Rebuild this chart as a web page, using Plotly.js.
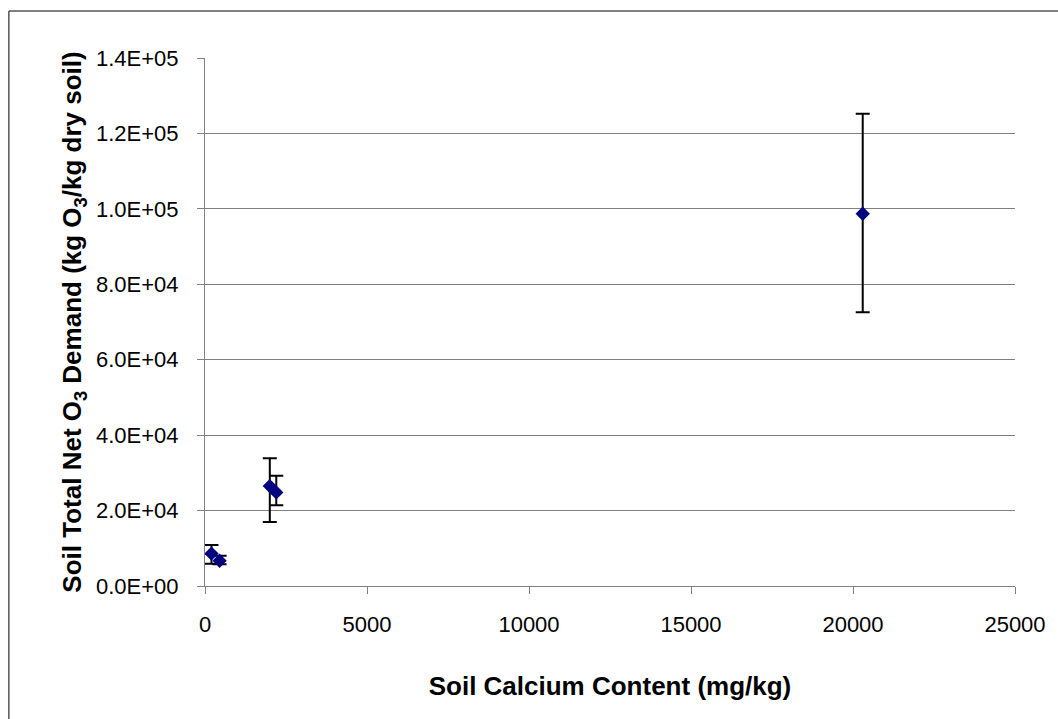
<!DOCTYPE html>
<html>
<head>
<meta charset="utf-8">
<script src="https://cdn.plot.ly/plotly-3.0.1.min.js"></script>
<style>html,body{margin:0;padding:0;background:#fff;}#chart{width:1058px;height:719px;}</style>
</head>
<body>
<div id="chart"></div>
<script>
const calcium = [200, 450, 2000, 2200, 20300];
const demand = [8600, 6700, 26500, 24800, 98700];
const errPlus = [2300, 1300, 7400, 4400, 26500];
const errMinus = [2700, 900, 9500, 3400, 26100];
const yTickVals = [0, 20000, 40000, 60000, 80000, 100000, 120000, 140000];
const yTickText = ['0.0E+00', '2.0E+04', '4.0E+04', '6.0E+04', '8.0E+04', '1.0E+05', '1.2E+05', '1.4E+05'];
const xTickVals = [0, 5000, 10000, 15000, 20000, 25000];

const FONT = 'Liberation Sans, Arial, sans-serif';

const trace = {
  x: calcium,
  y: demand,
  type: 'scatter',
  mode: 'markers',
  marker: {symbol: 'diamond', color: '#000080', size: 11},
  error_y: {type: 'data', symmetric: false, array: errPlus, arrayminus: errMinus,
            color: '#000000', thickness: 2, width: 7},
  showlegend: false,
  hoverinfo: 'x+y'
};

const layout = {
  width: 1058, height: 719,
  margin: {l: 205, r: 43, t: 58, b: 133, pad: 0},
  paper_bgcolor: '#ffffff', plot_bgcolor: '#ffffff',
  font: {family: FONT, color: '#000000', size: 22},
  xaxis: {
    range: [0, 25000], tickvals: xTickVals, ticktext: xTickVals.map(String),
    showgrid: false, zeroline: false, showline: true, linecolor: '#808080', linewidth: 1,
    ticks: 'outside', ticklen: 7, tickcolor: '#808080', tickwidth: 1,
    ticklabelstandoff: 12,
    tickfont: {size: 22, family: FONT},
    title: {text: 'Soil Calcium Content (mg/kg)', standoff: 40,
            font: {size: 26, family: FONT, weight: 'bold'}}
  },
  yaxis: {
    range: [0, 140000], tickvals: yTickVals, ticktext: yTickText,
    showgrid: true, gridcolor: '#808080', gridwidth: 1, zeroline: false,
    showline: true, linecolor: '#808080', linewidth: 1,
    ticks: 'outside', ticklen: 7, tickcolor: '#808080', tickwidth: 1,
    ticklabelstandoff: 14,
    tickfont: {size: 22, family: FONT},
    title: {text: 'Soil Total Net O<sub>3</sub> Demand (kg O<sub>3</sub>/kg dry soil)', standoff: 6,
            font: {size: 26, family: FONT, weight: 'bold'}}
  },
  shapes: [
    {type: 'line', xref: 'paper', yref: 'paper', x0: -0.2421, x1: -0.2421, y0: 1.089, y1: -0.5,
     line: {color: '#000000', width: 1}},
    {type: 'line', xref: 'paper', yref: 'paper', x0: -0.2421, x1: 1.2, y0: 1.089, y1: 1.089,
     line: {color: '#000000', width: 1}}
  ]
};

Plotly.newPlot('chart', [trace], layout, {displayModeBar: false, staticPlot: true});
</script>
</body>
</html>
